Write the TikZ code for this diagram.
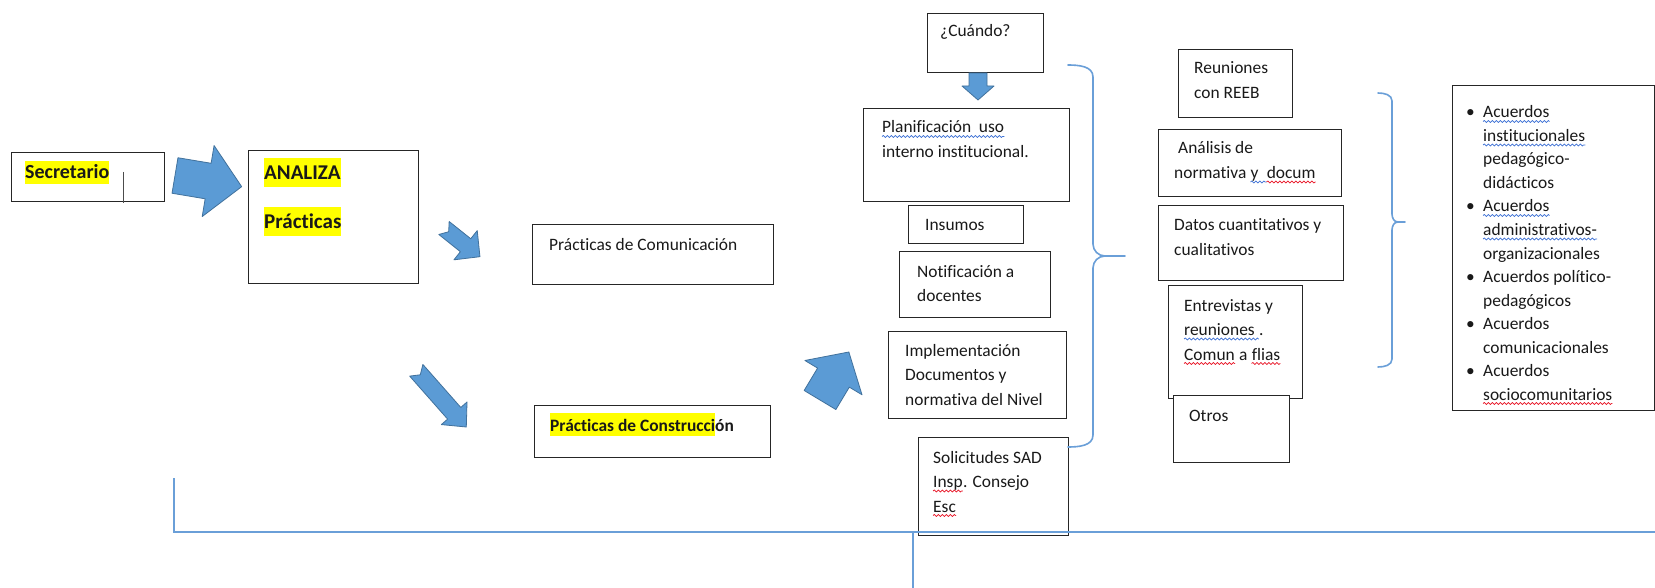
\documentclass[tikz,border=0pt]{standalone}
\usepackage{fontspec}
\setmainfont{Carlito}[Ligatures=CommonOff]
\usepackage{xcolor}
\usetikzlibrary{decorations.pathmorphing}
\definecolor{abl}{HTML}{5B9BD5}
\definecolor{abd}{HTML}{41719C}
\definecolor{lbl}{HTML}{6A9FD8}
\definecolor{hly}{HTML}{FFFF00}
\definecolor{spr}{HTML}{E81123}
\definecolor{spb}{HTML}{3B6FD4}
\newcommand\yhl[3]{{\setlength{\fboxsep}{0pt}\colorbox{hly}{\rule[#1]{0pt}{#2}#3}}}
\newcommand\mylines[1]{\begin{tabular}[t]{@{}l@{}}#1\end{tabular}}
\newcommand\bul{\llap{•\hspace{8.5pt}}}
\newcommand\barrow[8]{\filldraw[barrowstyle,shift={(#1,#2)},rotate=#3] (0,#5) -- ({#4-#7},#5) -- ({#4-#7},#6) -- (#4,0) -- ({#4-#7},-#6) -- ({#4-#7},-#5) -- (0,-#5) -- (#8,0) -- cycle;}
\tikzset{
  box/.style={draw=black!85, line width=1.2pt, fill=white, inner sep=0pt, anchor=north west},
  txt/.style={inner sep=0pt, anchor=base west, text=black!90, font=\fontsize{17.4}{24.5}\selectfont},
  barrowstyle/.style={fill=abl, draw=abd, line width=0.8pt, line join=round},
  bluel/.style={draw=lbl, line width=1.6pt},
  wavy/.style={draw=#1, line width=0.7pt, decorate, decoration={snake, amplitude=1pt, segment length=4pt}},
}
\begin{document}
\begin{tikzpicture}[x=1pt,y=-1pt]
\useasboundingbox (0,0) rectangle (1655,588);
\fill[white] (0,0) rectangle (1655,588);
% boxes
\node[box, minimum width=153pt, minimum height=49pt] (sec) at (11,152) {};
\node[box, minimum width=170pt, minimum height=133pt] (ana) at (248,150) {};
\node[box, minimum width=241pt, minimum height=60pt] (com) at (532,224) {};
\node[box, minimum width=236pt, minimum height=52pt] (con) at (534,405) {};
\node[box, minimum width=116pt, minimum height=59pt] (cua) at (927,13) {};
\node[box, minimum width=206pt, minimum height=93pt] (pla) at (863,108) {};
\node[box, minimum width=115pt, minimum height=38pt] (ins) at (908,205) {};
\node[box, minimum width=151pt, minimum height=66pt] (not) at (899,251) {};
\node[box, minimum width=178pt, minimum height=87pt] (imp) at (888,331) {};
\node[box, minimum width=150pt, minimum height=98pt] (sol) at (918,437) {};
\node[box, minimum width=114pt, minimum height=68pt] (reu) at (1178,49) {};
\node[box, minimum width=183pt, minimum height=67pt] (anl) at (1158,129) {};
\node[box, minimum width=185pt, minimum height=75pt] (dat) at (1158,205) {};
\node[box, minimum width=134pt, minimum height=113pt] (ent) at (1168,285) {};
\node[box, minimum width=116pt, minimum height=67pt] (otr) at (1173,395) {};
\node[box, minimum width=201.5pt, minimum height=325pt] (acu) at (1452,85) {};
% texts
\node[txt] (tsec) at (25,179) {\fontsize{20}{24}\selectfont\bfseries\yhl{-5pt}{23pt}{Secretario}};
\node[txt] (tana) at (264,180) {\fontsize{21}{24}\selectfont\bfseries\yhl{-7pt}{29pt}{ANALIZA}};
\node[txt] (tpra) at (264,229) {\fontsize{21}{24}\selectfont\bfseries\yhl{-7pt}{29pt}{Prácticas}};
\node[txt] (tcom) at (549,251) {Prácticas de Comunicación};
\node[txt] (tcon) at (550,431) {\bfseries\yhl{-5pt}{23pt}{Prácticas de Construcci}ón};
\node[txt] (tcua) at (940,37) {¿Cuándo?};
\node[txt] (wpla) at (882,133) {Planificación\ \ uso};
\node[txt] (tpla) at (882,157.5) {interno institucional.};
\node[txt] (tins) at (925,231) {Insumos};
\node[txt] (tnot) at (917,277) {\mylines{Notificación a\\ docentes}};
\node[txt] (timp) at (905,356) {\mylines{Implementación\\ Documentos y\\ normativa del Nivel}};
\node[txt] (tsol1) at (933,463) {Solicitudes SAD};
\node[txt] (wins) at (933,487.5) {Insp};
\node[txt] (tsol2) at (wins.base east) {. Consejo};
\node[txt] (wesc) at (933,512) {Esc};
\node[txt] (treu) at (1194,74) {\mylines{Reuniones\\ con REEB}};
\node[txt] (tanl1) at (1178,154) {Análisis de};
\node[txt] (tanl2) at (1174,178.5) {normativa};
\node[txt] (wy) at ([xshift=3.9pt]tanl2.base east) {y};
\node[txt] (wdoc) at ([xshift=7.8pt]wy.base east) {docum};
\node[txt] (tdat) at (1174,231) {\mylines{Datos cuantitativos y\\ cualitativos}};
\node[txt] (tent1) at (1184,311) {Entrevistas y};
\node[txt] (wreu) at (1184,335.5) {reuniones};
\node[txt] (tent2) at ([xshift=3.9pt]wreu.base east) {.};
\node[txt] (wcom) at (1184,360) {Comun};
\node[txt] (tent3) at ([xshift=3.9pt]wcom.base east) {a};
\node[txt] (wfli) at ([xshift=3.9pt]tent3.base east) {flias};
\node[txt] (totr) at (1189,421) {Otros};
\foreach \t [count=\i from 0] in {{\bul Acuerdos},institucionales,pedagógico-,didácticos,{\bul Acuerdos},administrativos-,organizacionales,{\bul Acuerdos político-},pedagógicos,{\bul Acuerdos},comunicacionales,{\bul Acuerdos},sociocomunitarios}
  \node[txt] (acu\i) at (1483,118+23.5*\i) {\t};
% spelling waves
\draw[wavy=spb] ([yshift=-3.5pt]wpla.base west) -- ([yshift=-3.5pt]wpla.base east);
\draw[wavy=spr] ([yshift=-3.5pt]wins.base west) -- ([yshift=-3.5pt]wins.base east);
\draw[wavy=spr] ([yshift=-3.5pt]wesc.base west) -- ([yshift=-3.5pt]wesc.base east);
\draw[wavy=spb] ([yshift=-3.5pt]wy.base west) -- ([yshift=-3.5pt]wdoc.base west);
\draw[wavy=spr] ([yshift=-3.5pt]wdoc.base west) -- ([yshift=-3.5pt]wdoc.base east);
\draw[wavy=spb] ([yshift=-3.5pt]wreu.base west) -- ([yshift=-3.5pt]tent2.base west);
\draw[wavy=spr] ([yshift=-3.5pt]wcom.base west) -- ([yshift=-3.5pt]wcom.base east);
\draw[wavy=spr] ([yshift=-3.5pt]wfli.base west) -- ([yshift=-3.5pt]wfli.base east);
\foreach \i/\c in {0/spb,1/spb,4/spb,5/spb,12/spr}
  \draw[wavy=\c] ([yshift=-3.5pt]acu\i.base west) -- ([yshift=-3.5pt]acu\i.base east);
% cursor mark
\coordinate (cur1) at (123,172);
\coordinate (cur2) at (123,203);
\draw[black!70, line width=0.8pt] (cur1) -- (cur2);
% block arrows
\barrow{175}{175.5}{-9.5}{67.6}{18}{36}{34}{0}
\barrow{444}{228}{-38.6}{46}{8.3}{18.7}{18.4}{6}
\barrow{416.3}{370.3}{-48.6}{75.6}{8.8}{17.1}{18.3}{6}
\barrow{820}{400}{59}{56}{18.5}{33.3}{29.9}{0}
\barrow{978}{73}{-90}{27}{9}{16}{14}{0}
% braces
\draw[bluel, line cap=round] (1068,65) to[out=0,in=90] (1093,77) -- (1093,244) to[out=-90,in=180] (1105,256) -- (1125,256);
\draw[bluel, line cap=round] (1105,256) to[out=180,in=90] (1093,268) -- (1093,435) to[out=-90,in=0] (1068,447);
\draw[bluel, line cap=round] (1378,93) to[out=0,in=90] (1392,101) -- (1392,214) to[out=-90,in=180] (1398,222) -- (1405,222);
\draw[bluel, line cap=round] (1398,222) to[out=180,in=90] (1392,230) -- (1392,359) to[out=-90,in=0] (1378,367);
% bottom lines
\coordinate (bl1) at (174,478);
\coordinate (bl2) at (174,532);
\coordinate (bl3) at (1655,532);
\coordinate (bm1) at (913,532);
\coordinate (bm2) at (913,588);
\draw[bluel] (bl1) -- (bl2) -- (bl3);
\draw[bluel] (bm1) -- (bm2);
\end{tikzpicture}
\end{document}
